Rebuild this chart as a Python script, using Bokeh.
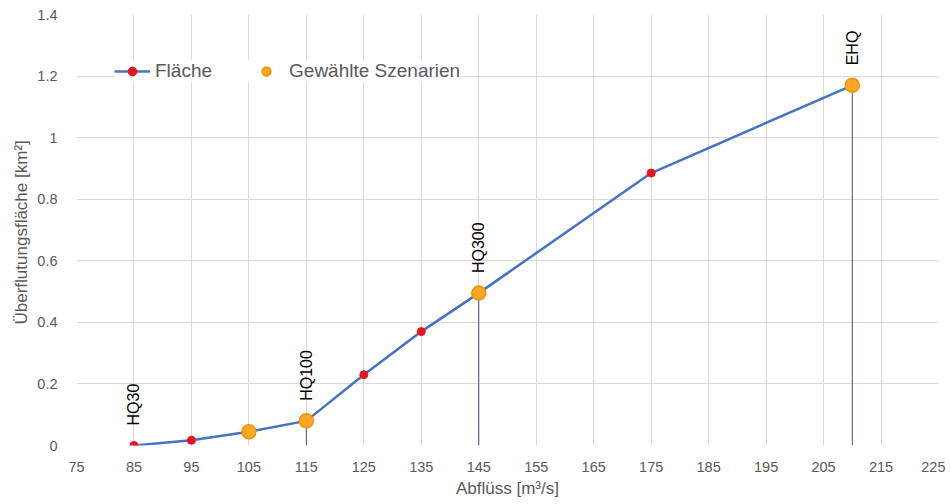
import numpy as np
from bokeh.plotting import figure
from bokeh.models import FixedTicker, Legend, LegendItem, Range1d
from bokeh.core.properties import value
from bokeh.embed import file_html
from bokeh.resources import INLINE

# ---- data ----
abfluss = [85, 95, 105, 115, 125, 135, 145, 175, 210]
flaeche = [0.0, 0.017, 0.045, 0.08, 0.23, 0.37, 0.495, 0.885, 1.17]

szen_x = [105, 115, 145, 210]
szen_y = [0.045, 0.08, 0.495, 1.17]

drop_x = [115, 145, 210]
drop_y = [0.08, 0.495, 1.17]

label_x = [85, 115, 145, 210]
label_y = [0.0, 0.08, 0.495, 1.17]
label_text = ["HQ30", "HQ100", "HQ300", "EHQ"]

x_ticks = list(range(75, 226, 10))
y_ticks = [0, 0.2, 0.4, 0.6, 0.8, 1.0, 1.2, 1.4]

FONT = "Liberation Sans"
TXT = "#595959"

p = figure(width=945, height=500, output_backend="svg", toolbar_location=None,
           x_range=Range1d(75, 225), y_range=Range1d(0, 1.4),
           min_border_left=76, min_border_right=7, min_border_top=14, min_border_bottom=54)
p.outline_line_color = None
p.background_fill_color = "white"

for ax in (p.xaxis[0], p.yaxis[0]):
    ax.axis_line_color = None
    ax.major_tick_line_color = None
    ax.minor_tick_line_color = None
    ax.major_label_text_font = FONT
    ax.major_label_text_font_size = "14.5px"
    ax.major_label_text_color = TXT
    ax.axis_label_text_font = FONT
    ax.axis_label_text_font_size = "17px"
    ax.axis_label_text_font_style = "normal"
    ax.axis_label_text_color = TXT

p.xaxis.ticker = FixedTicker(ticks=x_ticks)
p.yaxis.ticker = FixedTicker(ticks=y_ticks)
p.yaxis.major_label_overrides = {0: "0", 1.0: "1"}
p.xaxis.axis_label = "Abflüss [m³/s]"
p.yaxis.axis_label = "Überflutungsfläche  [km²]"
p.xaxis.major_label_standoff = 10
p.yaxis.major_label_standoff = 13
p.xaxis.axis_label_standoff = 4
p.yaxis.axis_label_standoff = 3

p.xgrid.ticker = FixedTicker(ticks=x_ticks)
p.ygrid.ticker = FixedTicker(ticks=y_ticks)
p.grid.grid_line_color = "#D9D9D9"
p.grid.grid_line_width = 1

# drop lines
p.segment(x0=drop_x, y0=[0] * len(drop_x), x1=drop_x, y1=drop_y,
          line_color="#44546A", line_width=1)

# main line
ln = p.line(abfluss, flaeche, line_color="#4472C4", line_width=2.5)
rd = p.scatter(abfluss, flaeche, size=8, fill_color="#E8141B", line_color="#E8141B")
og = p.scatter(szen_x, szen_y, size=14, fill_color="#FFA726", line_color="#F39200", line_width=1.5)

# labels
p.text(x=label_x, y=label_y, text=label_text, angle=np.pi / 2,
       text_align="left", text_baseline="middle", y_offset=-20,
       text_font=value(FONT), text_font_size="16px", text_color="#000000")

legend = Legend(items=[LegendItem(label="Fläche", renderers=[ln, rd]),
                       LegendItem(label="Gewählte Szenarien", renderers=[og])],
                orientation="horizontal", location=(38, 363),
                glyph_width=36, glyph_height=22, label_standoff=5, spacing=36,
                label_text_font=FONT, label_text_font_size="19px",
                label_text_color=TXT, border_line_color=None,
                background_fill_color="white", background_fill_alpha=1.0,
                padding=10, margin=0)
p.add_layout(legend, "center")

open("out.html", "w").write(file_html(p, INLINE))
